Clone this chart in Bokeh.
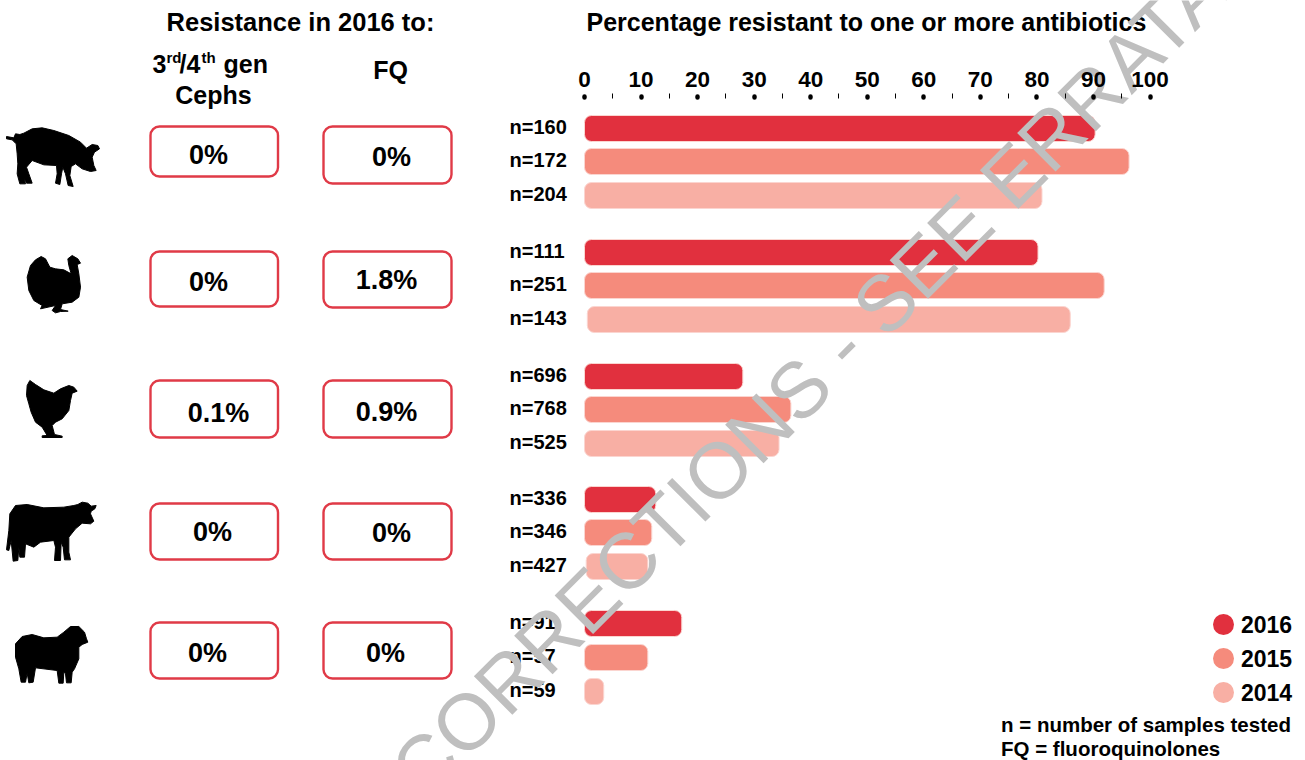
from bokeh.plotting import figure
from bokeh.embed import file_html
from bokeh.resources import INLINE
from bokeh.models import Range1d, LinearAxis, FixedTicker
from bokeh.core.properties import value
import math

# ---------- data ----------
animals = ["Pigs", "Turkeys", "Chickens", "Cattle", "Sheep"]
years = ["2016", "2015", "2014"]
pct_2016 = [90.3, 80.2, 28.0, 12.6, 17.2]
pct_2015 = [96.3, 91.9, 36.5, 11.9, 11.2]
pct_2014 = [80.9, 85.9, 34.4, 11.2, 3.4]
start_2014 = [0, 0.5, 0, 0.3, 0]
n_2016 = ["n=160", "n=111", "n=696", "n=336", "n=91"]
n_2015 = ["n=172", "n=251", "n=768", "n=346", "n=57"]
n_2014 = ["n=204", "n=143", "n=525", "n=427", "n=59"]
ceph = ["0%", "0%", "0.1%", "0%", "0%"]
fq = ["0%", "1.8%", "0.9%", "0%", "0%"]
tick_values = [0, 10, 20, 30, 40, 50, 60, 70, 80, 90, 100]

colors = ["#e1303e", "#f58b7c", "#f8afa4"]
RED = "#e03a47"
FONT = value("Liberation Sans")

# ---------- layout (reference page pixels) ----------
W, H = 1305, 760
PX0, PX100 = 584.0, 1149.5
scale = (PX100 - PX0) / 100
row_y = [(128, 161, 195), (252, 285, 319), (376, 409, 443), (499, 532, 566), (623, 657, 691)]

p = figure(width=W, height=H, output_backend="svg", toolbar_location=None,
           x_range=Range1d(-PX0 / scale, (W - PX0) / scale),
           y_range=Range1d(H, 0),
           x_axis_location=None, y_axis_location=None,
           min_border=0, outline_line_color=None, background_fill_color="white")
p.grid.visible = False
p.extra_x_ranges["px"] = Range1d(0, W)


def txt(x, y, s, size, align="left", weight="bold", color="black", angle=0.0):
    p.text([x], [y], text=[s], x_range_name="px", text_font=FONT, text_font_size=f"{size}px",
           text_font_style=weight, text_align=align, text_baseline="middle",
           text_color=color, angle=angle)


# ---------- axis ----------
axis = LinearAxis(bounds=(0, 100))
axis.fixed_location = 95.5
axis.ticker = FixedTicker(ticks=tick_values, minor_ticks=[5 * i for i in range(1, 20, 2)])
axis.axis_line_color = None
axis.major_tick_in = 1
axis.major_tick_out = 0
axis.major_tick_line_width = 4.5
axis.major_tick_line_cap = "round"
axis.major_tick_line_color = "black"
axis.minor_tick_in = 2
axis.minor_tick_out = 3
axis.minor_tick_line_width = 1
axis.minor_tick_line_color = "black"
axis.major_label_text_font = "Liberation Sans"
axis.major_label_text_font_style = "bold"
axis.major_label_text_font_size = "22.5px"
axis.major_label_text_color = "black"
axis.major_label_standoff = 6
p.add_layout(axis, "above")

# ---------- bars ----------
for i, vals in enumerate([pct_2016, pct_2015, pct_2014]):
    ys = [r[i] for r in row_y]
    left = start_2014 if i == 2 else [0] * 5
    p.hbar(y=ys, left=left, right=vals, height=26, fill_color=colors[i],
           line_color="#fbd5d0", line_width=1, border_radius=7)

for i, ns in enumerate([n_2016, n_2015, n_2014]):
    p.text([509] * 5, [r[i] - 1.5 for r in row_y], text=ns, x_range_name="px", text_font=FONT,
           text_font_size="20px", text_font_style="bold", text_baseline="middle", text_color="black")

# ---------- panels ----------
ceph_box = [(150, 277.5, 126, 176), (150, 277.5, 251, 306), (150, 277.5, 380, 437), (150, 277.5, 503, 559), (150, 277.5, 622, 678)]
fq_box = [(323, 451, 126, 183), (323, 451, 251, 307), (323, 451, 380, 437), (323, 451, 503, 559), (323, 451, 622, 678)]
for b in ceph_box + fq_box:
    p.quad(left=[b[0]], right=[b[1]], top=[b[2]], bottom=[b[3]], x_range_name="px",
           fill_color="white", line_color=RED, line_width=2.4, border_radius=9)
ceph_pos = [(208, 154), (208, 281), (218, 412), (212, 531), (207, 652)]
fq_pos = [(391, 156), (386, 279), (386, 411), (391, 532), (385, 652)]
for (x, y), s in zip(ceph_pos, ceph):
    txt(x, y, s, 27, "center")
for (x, y), s in zip(fq_pos, fq):
    txt(x, y, s, 27, "center")

# ---------- headings ----------
txt(300, 21, "Resistance in 2016 to:", 25.5, "center")
txt(586, 21, "Percentage resistant to one or more antibiotics", 25)
txt(152, 63, "3", 25)
txt(166, 57, "rd", 15)
txt(179, 63, "/4", 25)
txt(201, 57, "th", 15)
txt(223, 63, "gen", 25)
txt(213, 94, "Cephs", 25, "center")
txt(390, 69, "FQ", 25, "center")

# ---------- silhouettes (outlines traced in crop pixels, x/3+x0, y/3+y0) ----------
pig = [(18,78),(40,82),(45,70),(58,72),(70,68),(95,55),(125,52),(160,60),(205,75),(240,95),(258,113),(275,102),(292,105),(297,115),(282,125),(275,140),(280,165),(287,180),(270,183),(245,175),(225,160),(212,168),(208,195),(218,228),(203,225),(195,190),(187,170),(183,190),(178,222),(165,218),(170,190),(168,165),(130,163),(95,150),(78,170),(85,190),(95,218),(78,218),(70,200),(75,220),(58,220),(50,190),(52,160),(50,130),(47,100),(35,88),(18,85)]
turkey = [(122,438),(135,445),(148,470),(165,475),(190,478),(212,490),(205,465),(202,445),(215,435),(232,445),(240,458),(230,462),(235,490),(240,530),(235,560),(215,575),(185,580),(180,597),(203,602),(180,603),(165,607),(155,600),(165,585),(120,595),(125,585),(100,570),(85,540),(80,500),(90,465),(105,448)]
hen = [(88,30),(105,42),(130,58),(160,68),(180,55),(205,45),(220,50),(230,62),(215,68),(210,90),(205,120),(185,145),(165,155),(155,165),(162,192),(185,197),(185,201),(125,201),(125,196),(140,195),(125,170),(105,155),(92,125),(85,100),(78,75),(80,45)]
cow = [(45,405),(80,402),(130,412),(190,410),(220,405),(232,402),(245,395),(262,398),(272,407),(287,405),(283,415),(272,422),(270,430),(280,452),(270,460),(245,458),(225,475),(205,500),(205,545),(210,568),(192,568),(188,530),(182,515),(180,570),(162,570),(165,530),(160,510),(120,515),(100,530),(75,520),(72,560),(58,560),(55,530),(52,570),(38,572),(32,510),(25,540),(18,538),(25,480),(28,430)]
sheep = [(45,100),(65,78),(95,72),(130,82),(170,80),(190,65),(210,48),(235,48),(252,65),(258,85),(262,95),(245,102),(235,110),(235,145),(222,175),(215,185),(212,217),(198,217),(195,190),(190,185),(188,218),(175,218),(170,180),(105,172),(98,215),(85,217),(80,188),(75,215),(62,215),(55,175),(45,140)]
for outline, y0 in [(pig, 110), (turkey, 110), (hen, 370), (cow, 370), (sheep, 610)]:
    p.patch([a / 3 for a, _ in outline], [b / 3 + y0 for _, b in outline], x_range_name="px",
            fill_color="black", line_color="black", line_width=1, line_join="round")

# ---------- legend ----------
for yy, c, y_txt, name in zip([624, 658, 692], colors, [624, 658, 692], years):
    p.scatter([1223], [yy], size=21, marker="circle", x_range_name="px", fill_color=c, line_color=None)
    txt(1240.5, y_txt, name, 23)
txt(1000.5, 724, "n = number of samples tested", 20.5)
txt(1000.5, 748, "FQ = fluoroquinolones", 20.5)

# ---------- watermark ----------
p.text([808], [379], text=["CORRECTIONS - SEE ERRATA"], x_range_name="px", text_font=FONT,
       text_font_size="79px", text_align="center", text_baseline="middle",
       text_color="#bfbfbf", angle=math.radians(45))

open("out.html", "w").write(file_html(p, INLINE))
